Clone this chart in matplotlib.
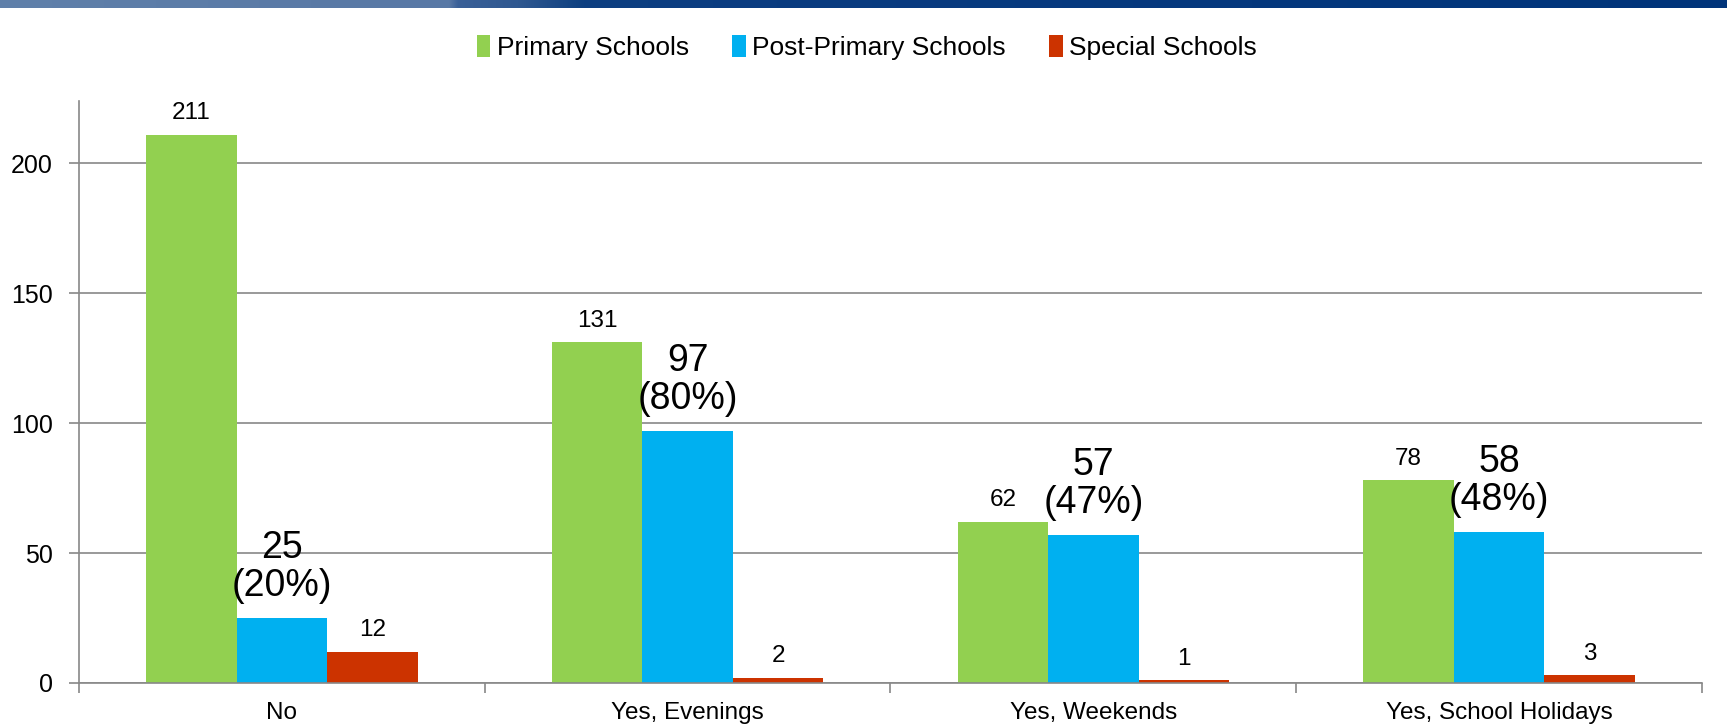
import matplotlib
matplotlib.use("Agg")
import matplotlib.pyplot as plt
import numpy as np
from matplotlib.colors import to_rgb

plt.rcParams['font.family'] = ['Liberation Sans', 'DejaVu Sans']

categories = ["No", "Yes, Evenings", "Yes, Weekends", "Yes, School Holidays"]
series_names = ["Primary Schools", "Post-Primary Schools", "Special Schools"]
primary = [211, 131, 62, 78]
post_primary = [25, 97, 57, 58]
post_primary_pct = [20, 80, 47, 48]
special = [12, 2, 1, 3]
y_ticks = [0, 50, 100, 150, 200]

colors = ["#92D050", "#00B0F0", "#CC3300"]

fig = plt.figure(figsize=(17.27, 7.25), dpi=100)

# top banner (decorative gradient)
bax = fig.add_axes([0, 0.989, 1, 0.011])
stops = [0.0, 0.18, 0.26, 0.265, 0.30, 0.338, 0.45, 1.0]
stop_cols = ["#6080aa", "#5a7aa6", "#5878a5", "#3a6098", "#2f5890", "#0d3f80", "#0a3c80", "#00347a"]
rgb = np.array([to_rgb(c) for c in stop_cols])
xs = np.linspace(0, 1, 1727)
grad = np.stack([np.interp(xs, stops, rgb[:, k]) for k in range(3)], axis=-1)[None, :, :]
bax.imshow(grad, aspect="auto", extent=(0, 1, 0, 1))
bax.set_axis_off()

ax = fig.add_axes([0.0457, 0.058, 0.9398, 0.803])

x = np.arange(len(categories))
w = 0.223
grid_c = "#888888"

bars = []
for i, (vals, c, name) in enumerate(zip([primary, post_primary, special], colors, series_names)):
    b = ax.bar(x + (i - 1) * w, vals, width=w, color=c, label=name, zorder=2)
    bars.append(b)

# small labels
for b in (bars[0], bars[2]):
    for r in b:
        ax.annotate(f"{int(r.get_height())}", (r.get_x() + r.get_width() / 2, r.get_height()),
                    xytext=(0, 7.5), textcoords="offset points", ha="center", va="bottom",
                    fontsize=17.5, color="black")
# large labels
for r, p in zip(bars[1], post_primary_pct):
    ax.annotate(f"{int(r.get_height())}\n({p}%)", (r.get_x() + r.get_width() / 2, r.get_height()),
                xytext=(0, 10), textcoords="offset points", ha="center", va="bottom",
                fontsize=27, color="black", linespacing=1.08)

ax.set_xlim(-0.5, len(categories) - 0.5)
ax.set_ylim(0, 224)
ax.set_yticks(y_ticks)
ax.yaxis.grid(True, color=grid_c, linewidth=1.2, zorder=0)
ax.set_axisbelow(True)

ax.set_xticks(x)
ax.set_xticklabels(categories, fontsize=17.5)
ax.set_xticks(np.arange(len(categories) + 1) - 0.5, minor=True)
ax.tick_params(axis="x", which="major", length=0, pad=14)
ax.tick_params(axis="x", which="minor", length=7, color=grid_c, width=1.2, direction="out")
ax.tick_params(axis="y", length=7, color=grid_c, width=1.2, labelsize=18, pad=12)

for s in ["top", "right"]:
    ax.spines[s].set_visible(False)
ax.spines["left"].set_color(grid_c)
ax.spines["bottom"].set_color(grid_c)
ax.spines["left"].set_linewidth(1.2)
ax.spines["bottom"].set_linewidth(1.2)

handles, labels = ax.get_legend_handles_labels()
fig.legend(handles, labels, loc="center", bbox_to_anchor=(0.502, 0.934), ncol=3, frameon=False,
           fontsize=19, handlelength=0.5, handleheight=0.9, handletextpad=0.25,
           columnspacing=1.65)

fig.savefig("out.png", dpi=100)
